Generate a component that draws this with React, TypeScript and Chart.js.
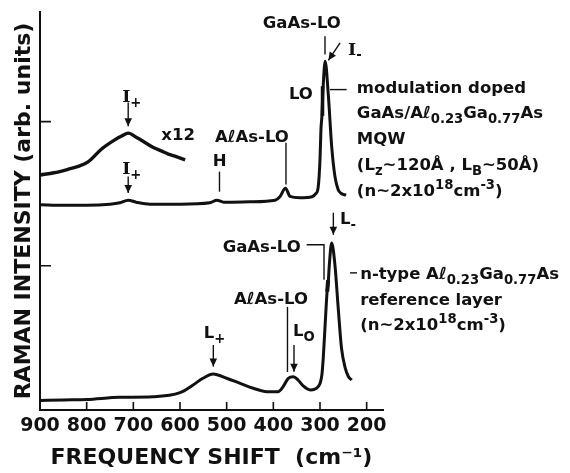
import React, { useEffect, useRef } from 'react';
import { Chart, registerables } from 'chart.js';

Chart.register(...registerables);

// Axis ticks: Raman shift (cm^-1) and intensity gridline positions (arb. units)
const xTicks = [900, 800, 700, 600, 500, 400, 300, 200];
const yTicks = [1, 2];

// Modulation doped GaAs/Al0.23Ga0.77As MQW, high-shift region magnified x12
const mqwX12Shift = [900, 870, 839, 818, 797, 768, 739, 725, 711, 693, 675, 657, 639, 625, 611, 589];
const mqwX12Intensity = [1.63, 1.645, 1.67, 1.69, 1.72, 1.81, 1.875, 1.9, 1.92, 1.89, 1.855, 1.82, 1.795, 1.775, 1.76, 1.735];

// Modulation doped GaAs/Al0.23Ga0.77As MQW
const mqwShift = [900, 850, 800, 750, 729, 711, 694, 664, 600, 536, 521, 506, 450, 396, 386, 374, 364, 343, 317, 309, 304, 300, 298, 296, 294, 289, 282, 275, 268, 261, 255, 244];
const mqwIntensity = [1.424, 1.42, 1.42, 1.427, 1.437, 1.455, 1.441, 1.427, 1.427, 1.437, 1.455, 1.441, 1.444, 1.455, 1.479, 1.538, 1.481, 1.472, 1.479, 1.5, 1.542, 1.736, 1.944, 2.035, 2.19, 2.419, 2.176, 1.829, 1.62, 1.528, 1.503, 1.49];

// n-type Al0.23Ga0.77As reference layer
const refShift = [900, 850, 800, 729, 658, 600, 572, 551, 529, 500, 471, 443, 414, 390, 379, 368, 357, 347, 336, 321, 304, 296, 293, 289, 285, 282, 280, 275, 268, 261, 254, 246, 239, 232];
const refIntensity = [0.066, 0.07, 0.073, 0.088, 0.092, 0.12, 0.174, 0.22, 0.25, 0.22, 0.185, 0.151, 0.127, 0.127, 0.162, 0.22, 0.231, 0.208, 0.167, 0.139, 0.162, 0.243, 0.361, 0.59, 0.8125, 0.903, 1.007, 1.158, 1.007, 0.708, 0.431, 0.292, 0.231, 0.208];

type Kind = 'sub' | 'sup' | 'serif';
type Seg = { t: string; s?: Kind };
type Part = string | [string, Kind];
const rich = (...parts: Part[]): Seg[] =>
  parts.map((p) => (typeof p === 'string' ? { t: p } : { t: p[0], s: p[1] }));

// Peak labels, anchored in data units (shift, intensity)
type Note = { segs: Seg[]; f: number; v: number; align: 'left' | 'center' };
const notes: Note[] = [
  { segs: rich('GaAs-LO'), f: 339, v: 2.688, align: 'center' },
  { segs: rich(['I', 'serif'], ['-', 'sub']), f: 240, v: 2.507, align: 'left' },
  { segs: rich('LO'), f: 341, v: 2.201, align: 'center' },
  { segs: rich('modulation doped'), f: 221, v: 2.243, align: 'left' },
  { segs: rich('GaAs/Aℓ', ['0.23', 'sub'], 'Ga', ['0.77', 'sub'], 'As'), f: 221, v: 2.069, align: 'left' },
  { segs: rich('MQW'), f: 221, v: 1.889, align: 'left' },
  { segs: rich('(L', ['z', 'sub'], '~120Å , L', ['B', 'sub'], '~50Å)'), f: 221, v: 1.708, align: 'left' },
  { segs: rich('(n~2x10', ['18', 'sup'], 'cm', ['-3', 'sup'], ')'), f: 221, v: 1.528, align: 'left' },
  { segs: rich('AℓAs-LO'), f: 446, v: 1.903, align: 'center' },
  { segs: rich('H'), f: 515, v: 1.736, align: 'center' },
  { segs: rich(['I', 'serif'], ['+', 'sub']), f: 724, v: 2.176, align: 'left' },
  { segs: rich('x12'), f: 604, v: 1.917, align: 'center' },
  { segs: rich(['I', 'serif'], ['+', 'sub']), f: 724, v: 1.681, align: 'left' },
  { segs: rich('L', ['-', 'sub']), f: 257, v: 1.333, align: 'left' },
  { segs: rich('GaAs-LO'), f: 425, v: 1.134, align: 'center' },
  { segs: rich('n-type Aℓ', ['0.23', 'sub'], 'Ga', ['0.77', 'sub'], 'As'), f: 214, v: 0.951, align: 'left' },
  { segs: rich('reference layer'), f: 214, v: 0.771, align: 'left' },
  { segs: rich('(n~2x10', ['18', 'sup'], 'cm', ['-3', 'sup'], ')'), f: 214, v: 0.597, align: 'left' },
  { segs: rich('AℓAs-LO'), f: 405, v: 0.778, align: 'center' },
  { segs: rich('L', ['O', 'sub']), f: 358, v: 0.556, align: 'left' },
  { segs: rich('L', ['+', 'sub']), f: 549, v: 0.538, align: 'left' },
];

// Leader lines and arrows, in data units
type Leader = { pts: [number, number][]; w: number; arrow?: boolean };
const leaders: Leader[] = [
  { pts: [[289.3, 2.592], [289.3, 2.465]], w: 1.4 },
  { pts: [[257, 2.546], [282, 2.425]], w: 1.4, arrow: true },
  { pts: [[294.6, 2.245], [294.6, 2.04]], w: 3.5 },
  { pts: [[278.6, 2.222], [242.9, 2.222]], w: 1.4 },
  { pts: [[372.9, 1.854], [372.9, 1.563]], w: 1.4 },
  { pts: [[515.4, 1.653], [515.4, 1.514]], w: 1.4 },
  { pts: [[711, 2.132], [711, 1.967]], w: 1.4, arrow: true },
  { pts: [[711, 1.62], [711, 1.505]], w: 1.4, arrow: true },
  { pts: [[271.4, 1.368], [271.4, 1.215]], w: 1.4, arrow: true },
  { pts: [[328.6, 1.146], [291.4, 1.146], [291.4, 0.903]], w: 1.4 },
  { pts: [[284.6, 0.82], [282.6, 0.9]], w: 4 },
  { pts: [[235.7, 0.951], [220.7, 0.951]], w: 1.4 },
  { pts: [[369.7, 0.715], [369.7, 0.264]], w: 1.4 },
  { pts: [[355.7, 0.451], [355.7, 0.266]], w: 1.4, arrow: true },
  { pts: [[528.6, 0.451], [528.6, 0.301]], w: 1.4, arrow: true },
];

const INK = '#111';
const NOTE_SIZE = 16.5;

function fontFor(kind?: Kind) {
  if (kind === 'sub' || kind === 'sup') return `bold ${(NOTE_SIZE * 0.8).toFixed(1)}px "DejaVu Sans"`;
  if (kind === 'serif') return `bold ${NOTE_SIZE + 1}px "DejaVu Serif"`;
  return `bold ${NOTE_SIZE}px "DejaVu Sans"`;
}

function drawRich(ctx: CanvasRenderingContext2D, segs: Seg[], x: number, y: number, align: 'left' | 'center') {
  const widths = segs.map((seg) => {
    ctx.font = fontFor(seg.s);
    return ctx.measureText(seg.t).width;
  });
  const total = widths.reduce((a, b) => a + b, 0);
  let cx = align === 'center' ? x - total / 2 : x;
  const baseline = y + 0.365 * NOTE_SIZE;
  ctx.textAlign = 'left';
  ctx.textBaseline = 'alphabetic';
  segs.forEach((seg, i) => {
    ctx.font = fontFor(seg.s);
    const dy = seg.s === 'sub' ? 0.3 * NOTE_SIZE : seg.s === 'sup' ? -0.42 * NOTE_SIZE : 0;
    ctx.fillText(seg.t, cx, baseline + dy);
    cx += widths[i];
  });
}

const annotate = {
  id: 'annotate',
  afterDraw(chart: any) {
    const { ctx, chartArea } = chart;
    const xs = chart.scales.x;
    const ys = chart.scales.y;
    const px = (f: number) => xs.getPixelForValue(f);
    const py = (v: number) => ys.getPixelForValue(v);
    ctx.save();
    ctx.strokeStyle = INK;
    ctx.fillStyle = INK;
    ctx.lineCap = 'butt';

    // inward tick marks
    ctx.lineWidth = 1.6;
    ctx.beginPath();
    xTicks.forEach((t) => {
      const X = px(t);
      ctx.moveTo(X, chartArea.bottom);
      ctx.lineTo(X, chartArea.bottom - 8);
    });
    yTicks.forEach((t) => {
      const Y = py(t);
      ctx.moveTo(chartArea.left, Y);
      ctx.lineTo(chartArea.left + 11, Y);
    });
    ctx.stroke();

    // leaders and arrows
    leaders.forEach((ld) => {
      const p = ld.pts.map(([f, v]) => [px(f), py(v)]);
      ctx.lineWidth = ld.w;
      ctx.beginPath();
      ctx.moveTo(p[0][0], p[0][1]);
      for (let i = 1; i < p.length; i++) ctx.lineTo(p[i][0], p[i][1]);
      if (ld.arrow) {
        const [x1, y1] = p[p.length - 2];
        const [x2, y2] = p[p.length - 1];
        const ang = Math.atan2(y2 - y1, x2 - x1);
        const len = 8;
        const bx = x2 - len * Math.cos(ang);
        const by = y2 - len * Math.sin(ang);
        ctx.stroke();
        ctx.beginPath();
        ctx.moveTo(x2, y2);
        ctx.lineTo(bx + 3.8 * Math.sin(ang), by - 3.8 * Math.cos(ang));
        ctx.lineTo(bx - 3.8 * Math.sin(ang), by + 3.8 * Math.cos(ang));
        ctx.closePath();
        ctx.fill();
      } else {
        ctx.stroke();
      }
    });

    // labels
    notes.forEach((n) => drawRich(ctx, n.segs, px(n.f), py(n.v), n.align));
    ctx.restore();
  },
};

const toPoints = (xs: number[], ys: number[]) => xs.map((x, i) => ({ x, y: ys[i] }));

export default function App() {
  const canvasRef = useRef<HTMLCanvasElement | null>(null);

  useEffect(() => {
    const canvas = canvasRef.current;
    if (!canvas) return;
    const curve = (label: string, data: { x: number; y: number }[], width: number) => ({
      label,
      data,
      borderColor: INK,
      borderWidth: width,
      pointRadius: 0,
      fill: false,
      cubicInterpolationMode: 'monotone' as const,
    });
    const chart = new Chart(canvas, {
      type: 'line',
      data: {
        datasets: [
          curve('MQW x12', toPoints(mqwX12Shift, mqwX12Intensity), 3.4),
          curve('MQW', toPoints(mqwShift, mqwIntensity), 3),
          curve('reference layer', toPoints(refShift, refIntensity), 3),
        ],
      },
      options: {
        animation: false,
        responsive: false,
        devicePixelRatio: 1,
        layout: { padding: { top: 12, right: 187, left: 0, bottom: 0 } },
        plugins: { legend: { display: false }, tooltip: { enabled: false } },
        scales: {
          x: {
            type: 'linear',
            reverse: true,
            min: 165,
            max: 900,
            afterBuildTicks: (s: any) => {
              s.ticks = xTicks.map((value) => ({ value }));
            },
            afterFit: (s: any) => {
              s.height = 63;
              s.paddingLeft = 0;
              s.paddingRight = 0;
            },
            grid: { drawOnChartArea: false, drawTicks: false },
            border: { display: true, color: INK, width: 2 },
            ticks: {
              color: INK,
              padding: 5,
              font: { family: 'DejaVu Sans', weight: 'bold', size: 19 },
              callback: (v: any) => String(v),
            },
            title: {
              display: true,
              text: 'FREQUENCY SHIFT  (cm⁻¹)',
              color: INK,
              font: { family: 'DejaVu Sans', weight: 'bold', size: 22, lineHeight: 1 },
              padding: { top: 0, bottom: 4 },
            },
          },
          y: {
            type: 'linear',
            min: 0,
            max: 2.76,
            afterBuildTicks: (s: any) => {
              s.ticks = yTicks.map((value) => ({ value }));
            },
            afterFit: (s: any) => {
              s.width = 40;
            },
            grid: { drawOnChartArea: false, drawTicks: false },
            border: { display: true, color: INK, width: 2 },
            ticks: { display: false },
            title: {
              display: true,
              text: 'RAMAN INTENSITY (arb. units)',
              color: INK,
              font: { family: 'DejaVu Sans', weight: 'bold', size: 22, lineHeight: 1 },
              padding: { top: 13, bottom: 0 },
            },
          },
        },
      },
      plugins: [annotate],
    } as any);
    return () => chart.destroy();
  }, []);

  return (
    <div style={{ position: 'absolute', left: 0, top: 0, width: 570, height: 473, background: '#fff' }}>
      <canvas ref={canvasRef} width={570} height={473} style={{ display: 'block' }} />
    </div>
  );
}
